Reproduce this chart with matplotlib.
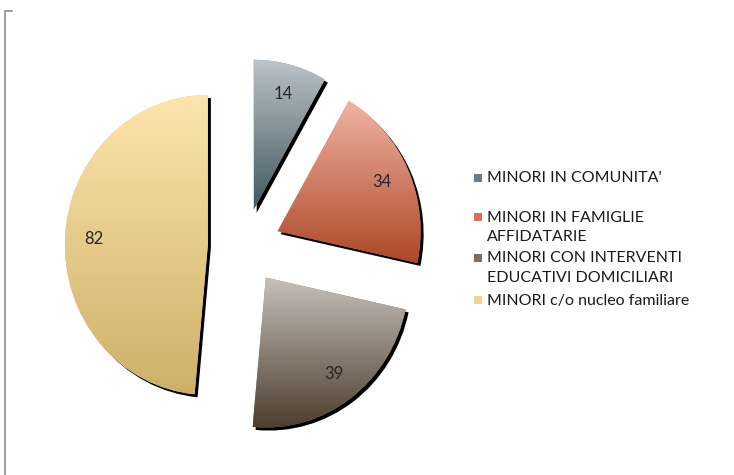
import numpy as np
import matplotlib
matplotlib.use("Agg")
import matplotlib.pyplot as plt
from matplotlib.colors import LinearSegmentedColormap
from matplotlib.lines import Line2D
from matplotlib.patches import PathPatch
import matplotlib.transforms as mtransforms

plt.rcParams['font.family'] = ['Lato', 'DejaVu Sans']

# ---------------- data ----------------
categories = [
    "MINORI IN COMUNITA'",
    "MINORI IN FAMIGLIE\nAFFIDATARIE",
    "MINORI CON INTERVENTI\nEDUCATIVI DOMICILIARI",
    "MINORI c/o nucleo familiare",
]
values = [14, 34, 39, 82]
# (top colour, bottom colour) of each slice's gradient
grad_top = ["#bac4c9", "#f0b3a3", "#c6c0ba", "#fde5ac"]
grad_bottom = ["#43565f", "#ad4826", "#4d3d2e", "#cdb068"]
legend_colors = ["#6e7d85", "#d86f57", "#7b6d62", "#f0d590"]

W, H = 734, 475
fig = plt.figure(figsize=(W / 100, H / 100), dpi=100)

# pie axes: slightly taller than wide, like the original
sx, sy = 143, 150          # px per unit
lim = 1.45
cx, cy = 244.3, 246.7      # pie centre, px from top-left
aw, ah = 2 * lim * sx / W, 2 * lim * sy / H
ax = fig.add_axes([cx / W - aw / 2, 1 - cy / H - ah / 2, aw, ah])

total = sum(values)
wedges, texts, autotexts = ax.pie(
    values,
    explode=[0.255] * len(values),
    startangle=90,
    counterclock=False,
    autopct=lambda p: f"{round(p * total / 100):d}",
    pctdistance=0.8,
    textprops=dict(fontsize=12, color="#262626"),
)
ax.set_aspect("auto")
ax.axis("off")

shadow_off = mtransforms.ScaledTranslation(3 / 100, -3 / 100, fig.dpi_scale_trans)
for w, ctop, cbot in zip(wedges, grad_top, grad_bottom):
    cmap = LinearSegmentedColormap.from_list("g", [cbot, ctop])
    # hard black drop shadow
    sh = PathPatch(w.get_path(), facecolor="black", edgecolor="none",
                   transform=ax.transData + shadow_off, zorder=0.5)
    ax.add_patch(sh)
    # solid underlay keeps the edge antialiased
    w.set_facecolor(cmap(0.5))
    w.set_edgecolor("none")
    w.set_zorder(0.8)
    bb = w.get_path().get_extents()
    grad = np.linspace(0, 1, 256).reshape(-1, 1)
    im = ax.imshow(grad, cmap=cmap, extent=[bb.x0, bb.x1, bb.y0, bb.y1],
                   origin="lower", aspect="auto", zorder=1,
                   interpolation="bicubic")
    im.set_clip_path(w)
for t in autotexts:
    t.set_zorder(3)
ax.set_aspect("auto")
ax.set_xlim(-lim, lim)
ax.set_ylim(-lim, lim)

# ---------------- legend ----------------
ys = [178, 217, 258, 300]
for lab, col, y in zip(categories, legend_colors, ys):
    fig.patches.append(plt.Rectangle((474 / W, 1 - (y + 4) / H), 8 / W, 8 / H,
                                     facecolor=col, edgecolor="none",
                                     transform=fig.transFigure, figure=fig))
    fig.text(487 / W, 1 - (y - 6.5) / H, lab, fontsize=11.5, color="#1a1a1a",
             va="top", ha="left", linespacing=1.48)

# partial chart frame on the left
fig.add_artist(Line2D([5 / W, 5 / W, 12 / W], [0, 1 - 11 / H, 1 - 11 / H],
                      color="#8c8c8c", lw=1.2, transform=fig.transFigure))

fig.savefig("out.png", dpi=100)
